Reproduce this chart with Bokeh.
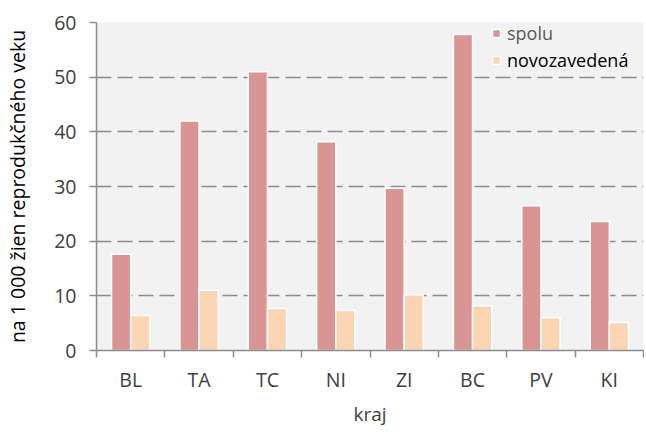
from bokeh.plotting import figure
from bokeh.models import ColumnDataSource, FixedTicker, Range1d, Legend, LegendItem
from bokeh.embed import file_html
from bokeh.resources import INLINE

categories = ["BL", "TA", "TC", "NI", "ZI", "BC", "PV", "KI"]
spolu = [17.6, 42.0, 51.0, 38.2, 29.7, 57.8, 26.5, 23.6]
novozavedena = [6.4, 11.0, 7.7, 7.3, 10.2, 8.2, 6.0, 5.1]
yticks = [0, 10, 20, 30, 40, 50, 60]

FONT = "Open Sans"
FS = "18px"
centers = [i + 0.5 for i in range(len(categories))]
src = ColumnDataSource(dict(
    x1=[c - 0.14 for c in centers],
    x2=[c + 0.14 for c in centers],
    spolu=spolu, novo=novozavedena))

W, H = 644, 430
BL_, BR_, BT_, BB_ = 96, 1, 22, 80
p = figure(width=W, height=H, output_backend="svg", toolbar_location=None,
           x_range=Range1d(0, len(categories)), y_range=Range1d(0, 60))
p.min_border_left = BL_
p.min_border_right = BR_
p.min_border_top = BT_
p.min_border_bottom = BB_
p.outline_line_color = None
p.background_fill_color = "#f2f2f2"
p.border_fill_color = "white"

r1 = p.vbar(x="x1", top="spolu", width=0.28, source=src, fill_color="#d99594",
            line_color="white", line_width=1.5)
r2 = p.vbar(x="x2", top="novo", width=0.28, source=src, fill_color="#fbd4b4",
            line_color="white", line_width=1.5)

p.xgrid.grid_line_color = None
p.ygrid.grid_line_color = "#8c8c8c"
p.ygrid.grid_line_dash = "15 6"
p.ygrid.grid_line_width = 1.7

p.xaxis.ticker = FixedTicker(ticks=centers, minor_ticks=list(range(len(categories) + 1)))
p.xaxis.major_label_overrides = {c: lab for c, lab in zip(centers, categories)}
p.xaxis.major_tick_out = 0
p.xaxis.major_tick_in = 0
p.xaxis.minor_tick_out = 7
p.xaxis.minor_tick_in = 0
p.xaxis.minor_tick_line_color = "#8c8c8c"
p.xaxis.minor_tick_line_width = 1.5
p.xaxis.axis_line_color = "#8c8c8c"
p.xaxis.axis_line_width = 1.5
p.xaxis.axis_label = "kraj"
p.xaxis.major_label_standoff = 8

p.yaxis.ticker = FixedTicker(ticks=yticks)
p.yaxis.major_tick_out = 7
p.yaxis.major_tick_in = 0
p.yaxis.minor_tick_line_color = None
p.yaxis.major_tick_line_color = "#8c8c8c"
p.yaxis.major_tick_line_width = 1.5
p.yaxis.axis_line_color = "#8c8c8c"
p.yaxis.axis_line_width = 1.5
p.yaxis.axis_label = "na 1 000 žien reprodukčného veku"
p.yaxis.major_label_standoff = 13

for ax in (p.xaxis, p.yaxis):
    ax.major_label_text_font = FONT
    ax.major_label_text_font_size = "19.5px"
    ax.major_label_text_color = "#404040"
    ax.axis_label_text_font = FONT
    ax.axis_label_text_font_style = "normal"
p.xaxis.axis_label_text_font_size = "19px"
p.yaxis.axis_label_text_font_size = "19.5px"
p.xaxis.axis_label_text_color = "#404040"
p.yaxis.axis_label_text_color = "#000000"
p.xaxis.axis_label_standoff = 5
p.yaxis.axis_label_standoff = 20

for item, color, ybot in ((LegendItem(label="spolu", renderers=[r1]), "#595959", 305),
                          (LegendItem(label="novozavedená", renderers=[r2]), "#000000", 278)):
    lg = Legend(items=[item], location=(395, ybot))
    lg.background_fill_alpha = 0
    lg.border_line_color = None
    lg.label_text_font = FONT
    lg.label_text_font_size = FS
    lg.label_text_color = color
    lg.glyph_width = 10
    lg.glyph_height = 10
    lg.label_standoff = 6
    lg.label_height = 18
    lg.padding = 0
    lg.margin = 0
    p.add_layout(lg)

open("out.html", "w").write(file_html(p, INLINE))
